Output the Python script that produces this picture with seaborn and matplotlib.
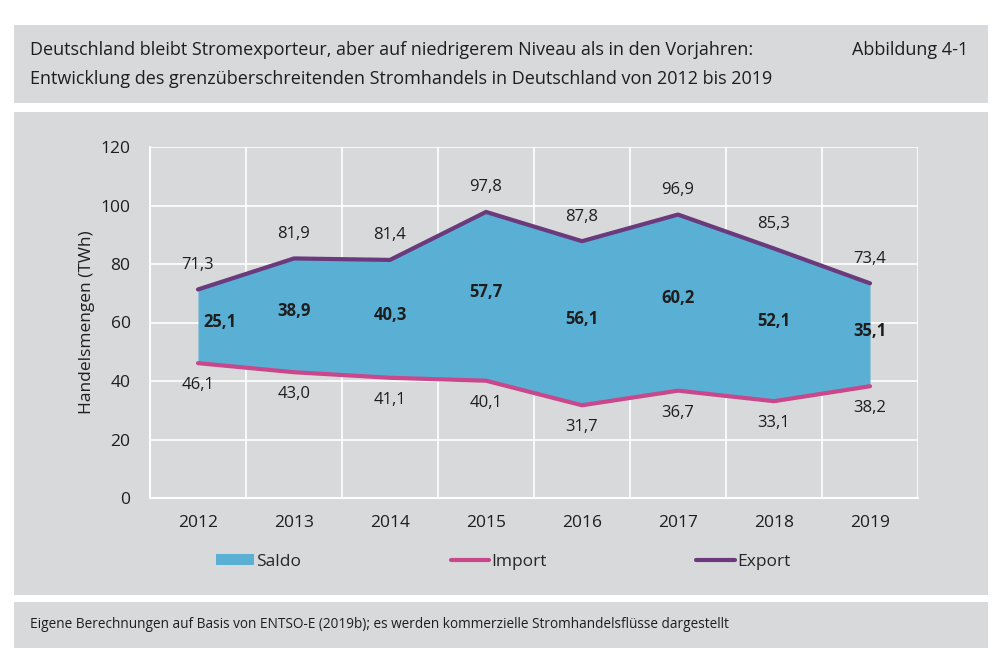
import numpy as np
import pandas as pd
import matplotlib.pyplot as plt
import seaborn as sns
from matplotlib.patches import Rectangle, Patch
from matplotlib.lines import Line2D

years = ["2012", "2013", "2014", "2015", "2016", "2017", "2018", "2019"]
export = [71.3, 81.9, 81.4, 97.8, 87.8, 96.9, 85.3, 73.4]
imports = [46.1, 43.0, 41.1, 40.1, 31.7, 36.7, 33.1, 38.2]
saldo = [25.1, 38.9, 40.3, 57.7, 56.1, 60.2, 52.1, 35.1]

GRAY = "#d8d9db"
BLUE = "#5aafd4"
PINK = "#c9478b"
PURPLE = "#6a3a7c"
TXT = "#1e1e1e"

sns.set_theme(style="white")
plt.rcParams["font.family"] = ["Open Sans", "DejaVu Sans"]

df = pd.DataFrame({"pos": np.arange(len(years)) + 0.5, "year": years,
                   "Export": export, "Import": imports, "Saldo": saldo})

fig = plt.figure(figsize=(10, 6.66), dpi=100)
fig.patch.set_facecolor("white")

# grey panels (behind the axes)
for y0, y1 in [(25, 103), (112, 595), (602, 648)]:
    fig.patches.append(Rectangle((0.014, 1 - y1 / 666), 0.974, (y1 - y0) / 666,
                                 transform=fig.transFigure, facecolor=GRAY,
                                 edgecolor="none", zorder=-5))

fig.text(0.030, 1 - 50 / 666, "Deutschland bleibt Stromexporteur, aber auf niedrigerem Niveau als in den Vorjahren:",
         fontsize=13, color=TXT, va="center")
fig.text(0.030, 1 - 79 / 666, "Entwicklung des grenzüberschreitenden Stromhandels in Deutschland von 2012 bis 2019",
         fontsize=13, color=TXT, va="center")
fig.text(0.968, 1 - 50 / 666, "Abbildung 4-1", fontsize=13, color=TXT, va="center", ha="right")
fig.text(0.030, 1 - 625 / 666,
         "Eigene Berechnungen auf Basis von ENTSO-E (2019b); es werden kommerzielle Stromhandelsflüsse dargestellt",
         fontsize=9.8, color=TXT, va="center")

ax = fig.add_axes([0.150, 1 - 498 / 666, 0.768, 351 / 666])
ax.set_facecolor(GRAY)
ax.set_xlim(0, 8)
ax.set_ylim(0, 120)

# grid
for y in range(20, 121, 20):
    ax.axhline(y, color="white", lw=1.2, zorder=0)
for x in range(1, 9):
    ax.axvline(x, color="white", lw=1.2, zorder=0)

ax.fill_between(df["pos"], df["Import"], df["Export"], color=BLUE, lw=0, zorder=2)
sns.lineplot(data=df, x="pos", y="Import", color=PINK, lw=3, ax=ax, zorder=3)
sns.lineplot(data=df, x="pos", y="Export", color=PURPLE, lw=3, ax=ax, zorder=3)

for i, r in df.iterrows():
    ax.annotate(f"{r['Export']:.1f}".replace(".", ","), (r["pos"], r["Export"]),
                xytext=(0, 12), textcoords="offset points", ha="center", va="bottom",
                fontsize=12, color=TXT)
    ax.annotate(f"{r['Import']:.1f}".replace(".", ","), (r["pos"], r["Import"]),
                xytext=(0, -10), textcoords="offset points", ha="center", va="top",
                fontsize=12, color=TXT)
    mid = (r["Export"] + r["Import"]) / 2
    dx = 16 if i == 0 else 0
    ax.annotate(f"{r['Saldo']:.1f}".replace(".", ","), (r["pos"], mid),
                xytext=(dx, 3), textcoords="offset points", ha="center", va="center",
                fontsize=12, fontweight="bold", color=TXT)

ax.set_xticks(df["pos"])
ax.set_xticklabels(years)
ax.set_yticks(range(0, 121, 20))
ax.tick_params(length=0, labelsize=12.5, colors=TXT, pad=12)
ax.tick_params(axis="y", pad=14)
ax.set_xlabel("")
ax.set_ylabel("Handelsmengen (TWh)", fontsize=12.5, color=TXT, labelpad=4)
for s in ["top", "right"]:
    ax.spines[s].set_visible(False)
for s in ["left", "bottom"]:
    ax.spines[s].set_color("white")
    ax.spines[s].set_linewidth(1.5)

handles = [Patch(facecolor=BLUE, edgecolor="none", label="Saldo"),
           Line2D([], [], color=PINK, lw=3, label="Import"),
           Line2D([], [], color=PURPLE, lw=3, label="Export")]
fig.legend(handles=handles, loc="center left", bbox_to_anchor=(0.207, 1 - 562 / 666),
           ncol=3, frameon=False, fontsize=12.5, handlelength=2.2, handletextpad=0.15,
           columnspacing=8.6, handleheight=0.6, borderpad=0)

fig.savefig("out.png", dpi=100, facecolor="white")
